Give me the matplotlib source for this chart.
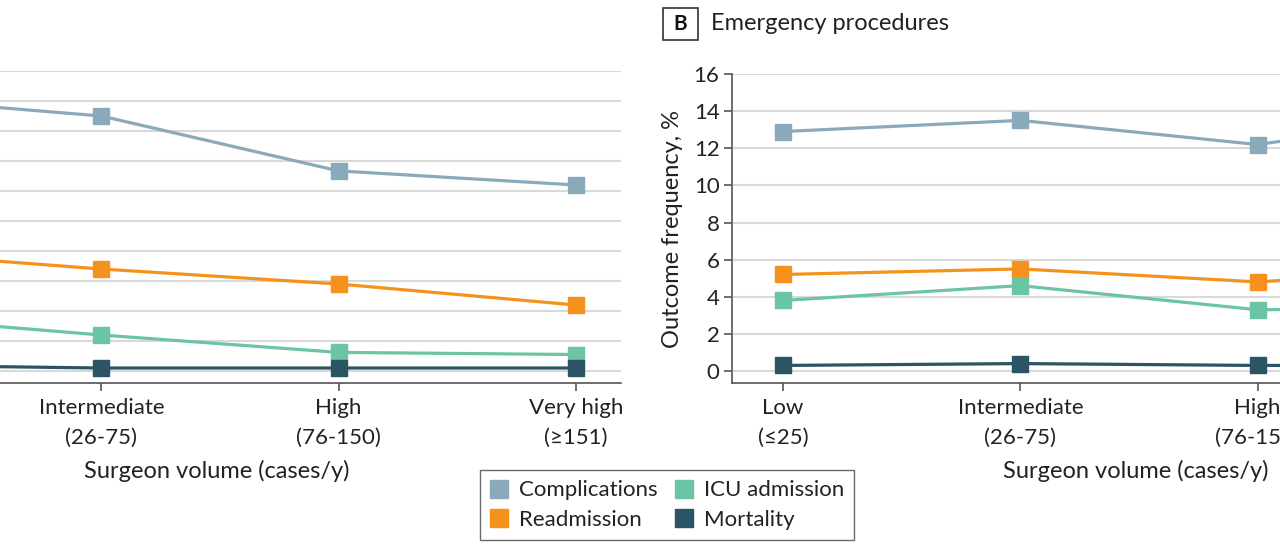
import matplotlib
matplotlib.use("Agg")
import matplotlib.pyplot as plt
from matplotlib.lines import Line2D
from matplotlib.patches import Rectangle

plt.rcParams['font.family'] = ['Lato', 'DejaVu Sans']

categories = ["Low\n(≤25)", "Intermediate\n(26-75)", "High\n(76-150)", "Very high\n(≥151)"]
series_names = ["Complications", "Readmission", "ICU admission", "Mortality"]
colors = ["#8AA9BA", "#F5921E", "#6BC4A4", "#2B5464"]

# Panel A: elective procedures
elective = {
    "Complications": [9.15, 8.5, 6.67, 6.2],
    "Readmission": [4.0, 3.4, 2.9, 2.2],
    "ICU admission": [1.85, 1.2, 0.62, 0.55],
    "Mortality": [0.2, 0.1, 0.1, 0.1],
}
# Panel B: emergency procedures
emergency = {
    "Complications": [12.9, 13.5, 12.2, 14.0],
    "Readmission": [5.2, 5.5, 4.8, 5.6],
    "ICU admission": [3.8, 4.6, 3.3, 3.4],
    "Mortality": [0.3, 0.4, 0.3, 0.3],
}
elective_yticks = list(range(0, 11, 1))
emergency_yticks = list(range(0, 17, 2))

W, H = 1280, 545
fig = plt.figure(figsize=(W / 100, H / 100), dpi=100)

def px_axes(x0, top, width, bottom):
    return fig.add_axes([x0 / W, (H - bottom) / H, width / W, (bottom - top) / H])

axA = px_axes(-187, 71, 808, 383)
axB = px_axes(732, 74, 808, 383)

def style(ax, data, yticks, ylow):
    x = list(range(len(categories)))
    for name, c in zip(series_names, colors):
        ax.plot(x, data[name], color=c, lw=2.3, marker='s', ms=11,
                solid_capstyle='butt', zorder=3, clip_on=False)
    ax.set_xlim(-0.215, 3.19)
    ax.set_ylim(ylow, yticks[-1])
    ax.set_yticks(yticks)
    ax.set_xticks(x)
    ax.set_xticklabels(categories, fontsize=16, color='#222222', linespacing=1.6)
    ax.tick_params(axis='both', direction='out', length=6, width=1.2, color='#555555')
    ax.tick_params(axis='y', labelsize=16, labelcolor='#222222', pad=3)
    ax.tick_params(axis='x', pad=5)
    ax.grid(axis='y', color='#D9D9D9', lw=1.5, zorder=0)
    ax.set_axisbelow(True)
    for s in ['top', 'right']:
        ax.spines[s].set_visible(False)
    for s in ['left', 'bottom']:
        ax.spines[s].set_color('#555555')
        ax.spines[s].set_linewidth(1.2)
    ax.set_xlabel("Surgeon volume (cases/y)", fontsize=17, color='#222222', labelpad=9)
    ax.set_ylabel("Outcome frequency, %", fontsize=17, color='#222222', labelpad=8)

style(axA, elective, elective_yticks, -0.4)
style(axB, emergency, emergency_yticks, -0.646)

# Panel B title
fig.add_artist(Rectangle((663 / W, 1 - 40 / H), 35 / W, 32 / H, transform=fig.transFigure,
                         fc='white', ec='#333333', lw=1.2))
fig.text(680.5 / W, 1 - 24 / H, "B", fontsize=15, fontweight='bold',
         ha='center', va='center', color='#111111')
fig.text(711 / W, 1 - 24 / H, "Emergency procedures", fontsize=17, ha='left', va='center',
         color='#222222')

handles = [Line2D([], [], ls='none', marker='s', ms=13, color=c) for c in colors]
leg = fig.legend(handles, series_names, loc='center', bbox_to_anchor=(667 / W, 1 - 505 / H),
                 ncol=2, fontsize=16, frameon=True, fancybox=False, handlelength=0.8,
                 handletextpad=0.5, columnspacing=0.8, labelspacing=0.42, borderpad=0.45)
leg.get_frame().set_edgecolor('#444444')
leg.get_frame().set_linewidth(1.0)
for t in leg.get_texts():
    t.set_color('#222222')

fig.savefig("out.png", dpi=100)
